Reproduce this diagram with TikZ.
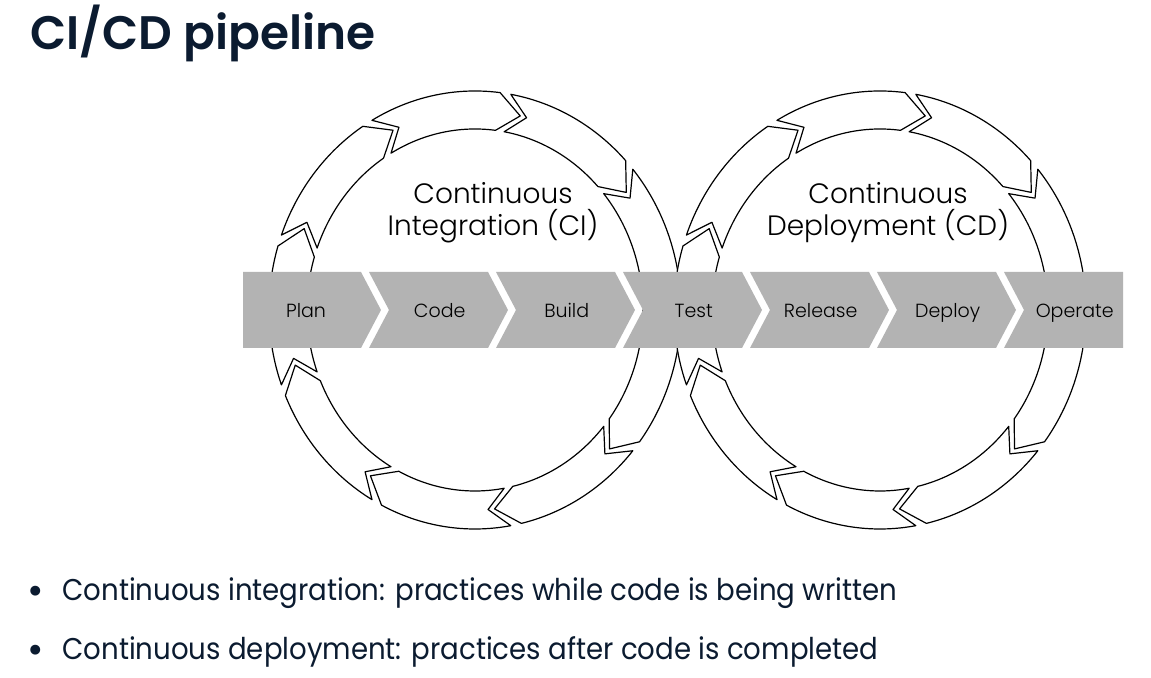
\documentclass[tikz,border=0pt]{standalone}
\usepackage{fontspec}
\setmainfont{Poppins}
\newfontfamily\titlefont{Poppins SemiBold}
\newfontfamily\lightfont{Poppins Light}
\definecolor{navy}{HTML}{0B1B30}
\definecolor{stagegray}{HTML}{B3B3B3}
\tikzset{
  seg/.style={draw=black, fill=white, line width=0.6pt, line join=round},
  stage/.style={fill=stagegray},
  stagelabel/.style={anchor=base, font=\lightfont\fontsize{9.5}{11}\selectfont, text=black},
  looplabel/.style={align=center, font=\lightfont\fontsize{14}{16}\selectfont, text=black},
  bullettext/.style={anchor=base west, inner sep=0, xscale=0.92, font=\fontsize{15}{18}\selectfont, text=navy},
  bulletdot/.style={anchor=base, inner sep=0, font=\fontsize{20}{20}\selectfont, text=navy}
}
\begin{document}
\begin{tikzpicture}[x=0.5pt,y=0.5pt]
\useasboundingbox (0,0) rectangle (1151,678);
% title
\node[anchor=base west, inner sep=0, font=\titlefont\fontsize{23.5}{28}\selectfont, text=navy] (title) at (30,628) {CI/CD pipeline};

% the two loops of arrows, clockwise
\foreach \cx in {475,880}{
  \begin{scope}[shift={(\cx,368)}]
  \foreach \a in {200,160,...,-120}{
    \draw[seg] ({\a}:206 and 219) arc[start angle=\a, end angle=\a-37, x radius=206, y radius=219]
      -- ({\a-44}:187 and 200) -- ({\a-37}:168 and 181)
      arc[start angle=\a-37, end angle=\a, x radius=168, y radius=181]
      -- ({\a-6}:187 and 200) -- cycle;
  }
  \end{scope}
}
\node[looplabel] (ci) at (493,465) {Continuous\\Integration (CI)};
\node[looplabel] (cd) at (888,465) {Continuous\\Deployment (CD)};

% stages of the pipeline
\foreach \i/\nm/\txt in {0/plan/Plan,1/code/Code,2/build/Build,3/test/Test,4/release/Release,5/deploy/Deploy,6/operate/Operate}{
  \pgfmathsetmacro\l{\i==0 ? 243 : 365+127*(\i-1)+4}
  \pgfmathsetmacro\r{\i==6 ? 1123 : 365+127*\i-4}
  \pgfmathsetmacro\nt{\i==0 ? 0 : 20}
  \pgfmathsetmacro\tp{\i==6 ? 0 : 20}
  \fill[stage] (\l,406) -- (\r,406) -- ({\r+\tp},368) -- (\r,330) -- (\l,330) -- ({\l+\nt},368) -- cycle;
  \node[stagelabel] (\nm) at ({(\l+\r)/2+4+\nt*0.36},360) {\txt};
}

% notes
\node[bulletdot] (dot1) at (36,73) {•};
\node[bullettext] (note1) at (62,77) {Continuous integration: practices while code is being written};
\node[bulletdot] (dot2) at (36,14) {•};
\node[bullettext] (note2) at (62,18) {Continuous deployment: practices after code is completed};
\end{tikzpicture}
\end{document}
